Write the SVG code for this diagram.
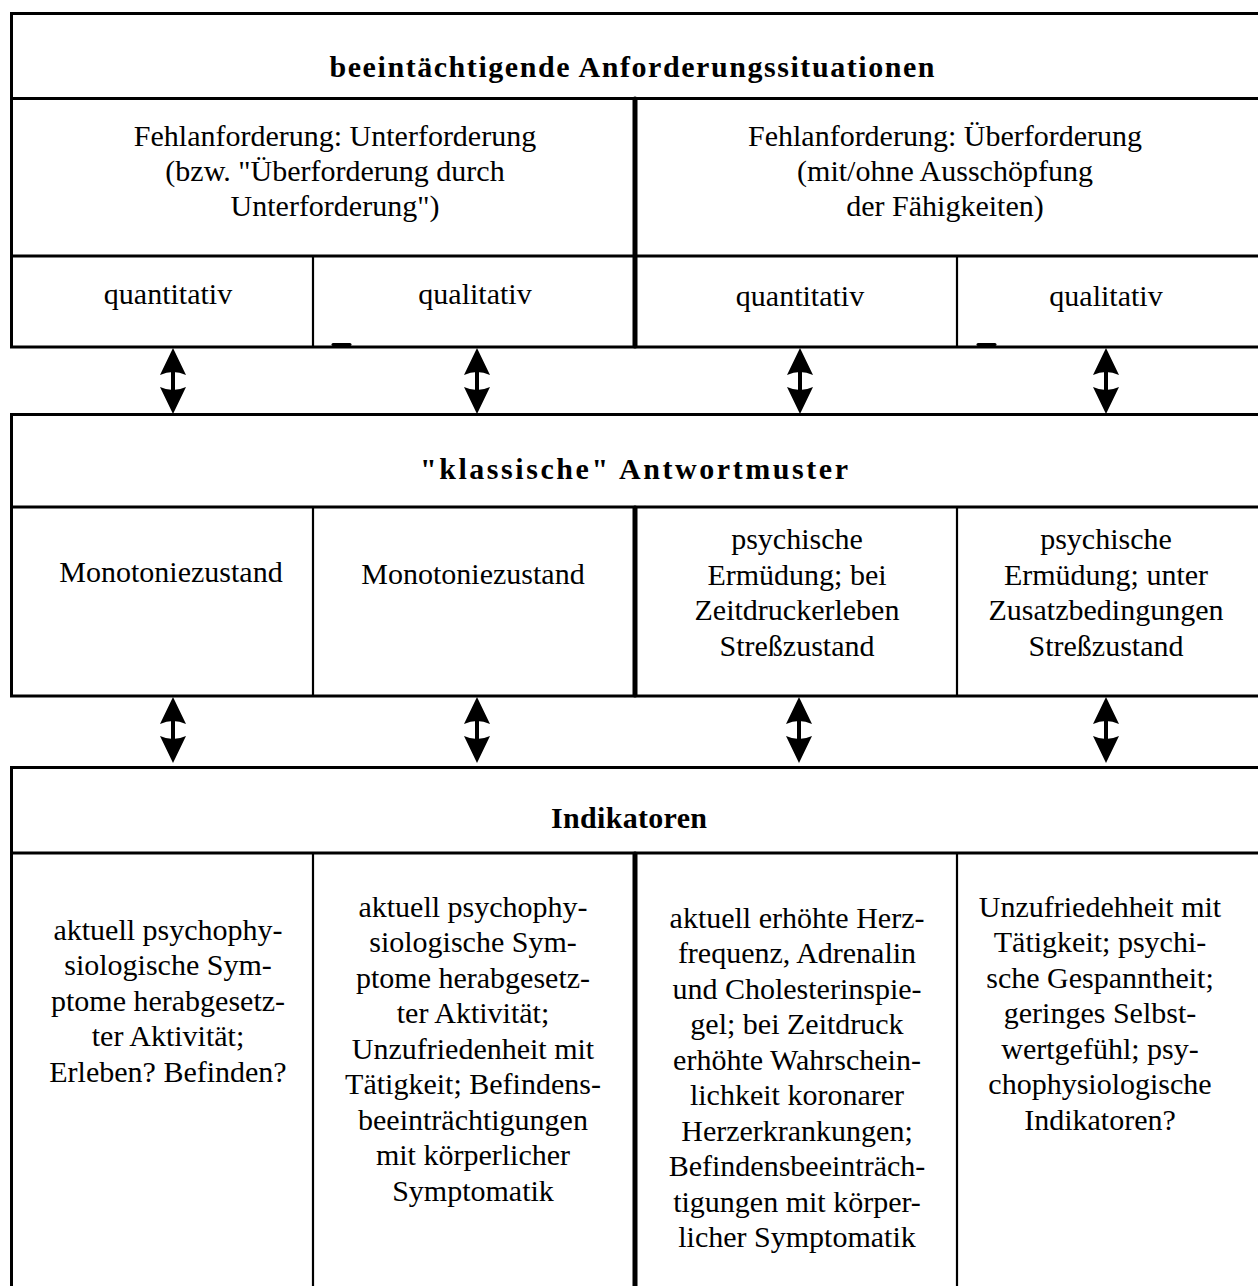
<svg xmlns="http://www.w3.org/2000/svg" width="1258" height="1286" viewBox="0 0 1258 1286">
<style>
.box{fill:#fff;stroke:#000;stroke-width:3}
.hl{stroke:#000;stroke-width:3;fill:none}
.thin{stroke:#000;stroke-width:2.2;fill:none}
.thick{stroke:#000;stroke-width:5;fill:none;stroke-linecap:round}
.t{font-family:"Liberation Serif","Times New Roman",serif;font-size:30px;fill:#000;text-anchor:middle}
.b{font-family:"Liberation Serif","Times New Roman",serif;font-size:30px;font-weight:bold;fill:#000;text-anchor:middle}
.arr{fill:#000;stroke:none}
</style>
<defs>
<path id="dbl" class="arr" d="M0,0 L13,27 Q0,21 -13,27 Z M-2,23 L2,23 L2,43 L-2,43 Z M-13,39 Q0,45 13,39 L0,66 Z"/>
</defs>

<g id="box-anforderung">
<rect class="box" x="11.5" y="13.5" width="1260" height="333.5"/>
<line class="hl" x1="10" y1="98.5" x2="1260" y2="98.5"/>
<line class="hl" x1="11" y1="256" x2="1260" y2="256"/>
<line class="thick" x1="635" y1="99" x2="635" y2="346"/>
<line class="thin" x1="313" y1="256" x2="313" y2="346"/>
<line class="thin" x1="957" y1="256" x2="957" y2="346"/>
<line stroke="#000" stroke-width="3" stroke-linecap="round" x1="333" y1="344.5" x2="350" y2="344.5"/>
<line stroke="#000" stroke-width="3" stroke-linecap="round" x1="978" y1="344.5" x2="995" y2="344.5"/>
<text class="b" x="632" y="77" textLength="605" lengthAdjust="spacing">beeintächtigende Anforderungssituationen</text>
<text class="t" x="335" y="146">Fehlanforderung: Unterforderung</text>
<text class="t" x="335" y="181">(bzw. "Überforderung durch</text>
<text class="t" x="335" y="216">Unterforderung")</text>
<text class="t" x="945" y="146">Fehlanforderung: Überforderung</text>
<text class="t" x="945" y="181">(mit/ohne Ausschöpfung</text>
<text class="t" x="945" y="216">der Fähigkeiten)</text>
<text class="t" x="168" y="304">quantitativ</text>
<text class="t" x="475" y="304">qualitativ</text>
<text class="t" x="800" y="306">quantitativ</text>
<text class="t" x="1106" y="306">qualitativ</text>
</g>

<g id="box-antwortmuster">
<rect class="box" x="11.5" y="414.5" width="1260" height="281.5"/>
<line class="hl" x1="11" y1="507" x2="1260" y2="507"/>
<line class="thin" x1="313" y1="507" x2="313" y2="695"/>
<line class="thick" x1="635" y1="508" x2="635" y2="695"/>
<line class="thin" x1="957" y1="507" x2="957" y2="695"/>
<text class="b" x="634" y="479" textLength="428" lengthAdjust="spacing">"klassische" Antwortmuster</text>
<text class="t" x="171" y="582">Monotoniezustand</text>
<text class="t" x="473" y="584">Monotoniezustand</text>
<text class="t" x="797" y="549">psychische</text>
<text class="t" x="797" y="585">Ermüdung; bei</text>
<text class="t" x="797" y="620">Zeitdruckerleben</text>
<text class="t" x="797" y="656">Streßzustand</text>
<text class="t" x="1106" y="549">psychische</text>
<text class="t" x="1106" y="585">Ermüdung; unter</text>
<text class="t" x="1106" y="620">Zusatzbedingungen</text>
<text class="t" x="1106" y="656">Streßzustand</text>
</g>

<g id="box-indikatoren">
<rect class="box" x="11.5" y="767.5" width="1260" height="540"/>
<line class="hl" x1="11" y1="853" x2="1260" y2="853"/>
<line class="thin" x1="313" y1="853" x2="313" y2="1290"/>
<line class="thick" x1="635" y1="854" x2="635" y2="1290"/>
<line class="thin" x1="957" y1="853" x2="957" y2="1290"/>
<text class="b" x="629" y="828" textLength="156" lengthAdjust="spacing">Indikatoren</text>
<text class="t" x="168" y="940">aktuell psychophy-</text>
<text class="t" x="168" y="975">siologische Sym-</text>
<text class="t" x="168" y="1011">ptome herabgesetz-</text>
<text class="t" x="168" y="1046">ter Aktivität;</text>
<text class="t" x="168" y="1082">Erleben? Befinden?</text>
<text class="t" x="473" y="917">aktuell psychophy-</text>
<text class="t" x="473" y="952">siologische Sym-</text>
<text class="t" x="473" y="988">ptome herabgesetz-</text>
<text class="t" x="473" y="1023">ter Aktivität;</text>
<text class="t" x="473" y="1059">Unzufriedenheit mit</text>
<text class="t" x="473" y="1094">Tätigkeit; Befindens-</text>
<text class="t" x="473" y="1130">beeinträchtigungen</text>
<text class="t" x="473" y="1165">mit körperlicher</text>
<text class="t" x="473" y="1201">Symptomatik</text>
<text class="t" x="797" y="928">aktuell erhöhte Herz-</text>
<text class="t" x="797" y="963">frequenz, Adrenalin</text>
<text class="t" x="797" y="999">und Cholesterinspie-</text>
<text class="t" x="797" y="1034">gel; bei Zeitdruck</text>
<text class="t" x="797" y="1070">erhöhte Wahrschein-</text>
<text class="t" x="797" y="1105">lichkeit koronarer</text>
<text class="t" x="797" y="1141">Herzerkrankungen;</text>
<text class="t" x="797" y="1176">Befindensbeeinträch-</text>
<text class="t" x="797" y="1212">tigungen mit körper-</text>
<text class="t" x="797" y="1247">licher Symptomatik</text>
<text class="t" x="1100" y="917">Unzufriedehheit mit</text>
<text class="t" x="1100" y="952">Tätigkeit; psychi-</text>
<text class="t" x="1100" y="988">sche Gespanntheit;</text>
<text class="t" x="1100" y="1023">geringes Selbst-</text>
<text class="t" x="1100" y="1059">wertgefühl; psy-</text>
<text class="t" x="1100" y="1094">chophysiologische</text>
<text class="t" x="1100" y="1130">Indikatoren?</text>
</g>

<g id="connectors">
<use href="#dbl" x="173" y="348"/>
<use href="#dbl" x="477" y="348"/>
<use href="#dbl" x="800" y="348"/>
<use href="#dbl" x="1106" y="348"/>
<use href="#dbl" x="173" y="697"/>
<use href="#dbl" x="477" y="697"/>
<use href="#dbl" x="799" y="697"/>
<use href="#dbl" x="1106" y="697"/>
</g>
</svg>
